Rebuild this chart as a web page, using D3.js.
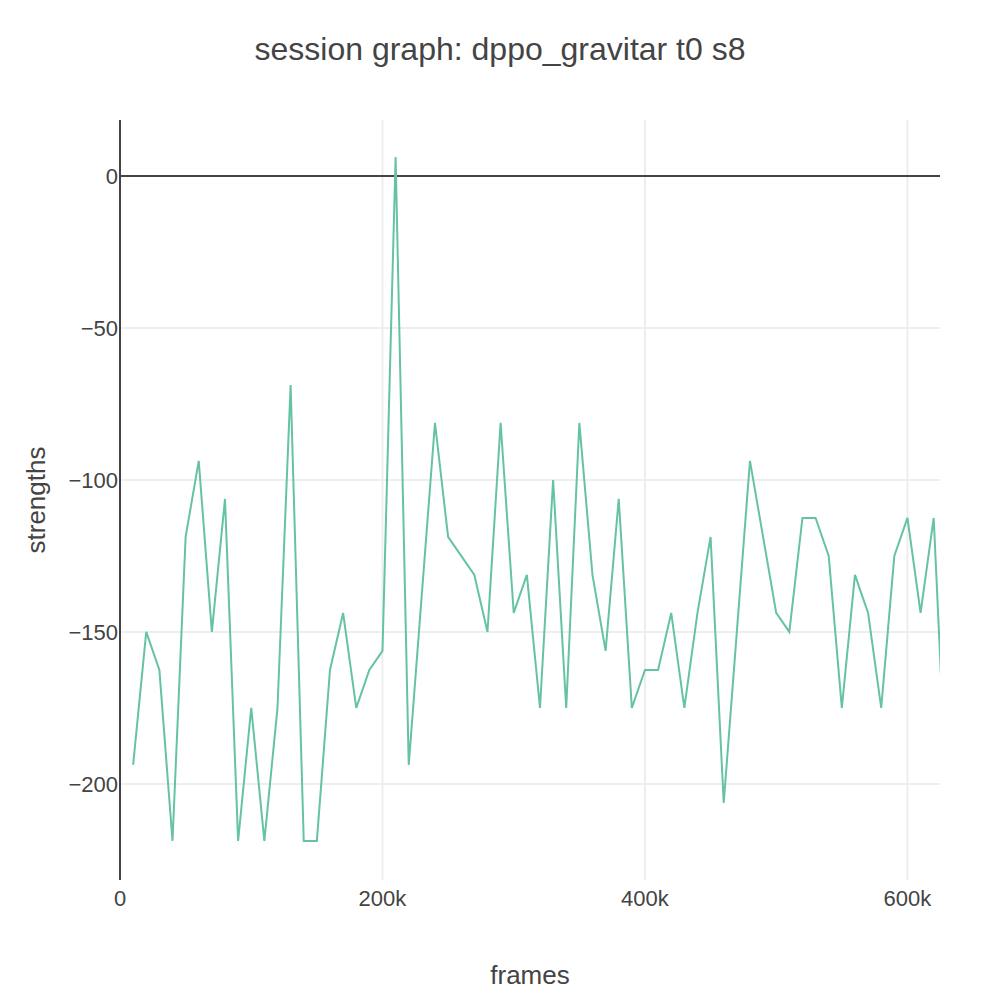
<!DOCTYPE html>
<html><head><meta charset="utf-8">
<script src="https://d3js.org/d3.v7.min.js"></script>
<style>body{margin:0;background:#fff}text{font-family:"Liberation Sans",Arial,sans-serif;fill:#444}</style>
</head><body><svg id="chart"></svg>
<script>
const frames = d3.range(10000, 640000, 10000);
const strengths = [-193.75,-150,-162.5,-218.75,-118.75,-93.75,-150,-106.25,-218.75,-175,
  -218.75,-175,-68.75,-218.75,-218.75,-162.5,-143.75,-175,-162.5,-156.25,
  6.25,-193.75,-137.5,-81.25,-118.75,-125,-131.25,-150,-81.25,-143.75,
  -131.25,-175,-100,-175,-81.25,-131.25,-156.25,-106.25,-175,-162.5,
  -162.5,-143.75,-175,-143.75,-118.75,-206.25,-150,-93.75,-118.75,-143.75,
  -150,-112.5,-112.5,-125,-175,-131.25,-143.75,-175,-125,-112.5,
  -143.75,-112.5,-206.25];
const xTicks = [0, 200000, 400000, 600000];
const yTicks = [0, -50, -100, -150, -200];

const W = 1000, H = 1000, m = {top:120, right:60, bottom:120, left:120};
const svg = d3.select('#chart').attr('width', W).attr('height', H);
const x = d3.scaleLinear().domain([0, 624800]).range([m.left, W - m.right]);
const y = d3.scaleLinear().domain([-231.6, 18.4]).range([H - m.bottom, m.top]);

svg.append('clipPath').attr('id','clip').append('rect')
  .attr('x', m.left).attr('y', m.top).attr('width', W-m.left-m.right).attr('height', H-m.top-m.bottom);

// grid
svg.selectAll('.gx').data(xTicks.slice(1)).enter().append('line')
  .attr('x1', d => x(d)).attr('x2', d => x(d)).attr('y1', m.top).attr('y2', H-m.bottom)
  .attr('stroke', '#eee').attr('stroke-width', 2);
svg.selectAll('.gy').data(yTicks.slice(1)).enter().append('line')
  .attr('x1', m.left).attr('x2', W-m.right).attr('y1', d => y(d)).attr('y2', d => y(d))
  .attr('stroke', '#eee').attr('stroke-width', 2);
// zero line
svg.append('line').attr('x1', m.left).attr('x2', W-m.right).attr('y1', y(0)).attr('y2', y(0))
  .attr('stroke', '#444').attr('stroke-width', 2);

// series
svg.append('path').datum(frames.map((f,i) => [f, strengths[i]]))
  .attr('clip-path','url(#clip)')
  .attr('fill','none').attr('stroke','#66c2a5').attr('stroke-width',2)
  .attr('d', d3.line().x(d => x(d[0])).y(d => y(d[1])));

// y axis line
svg.append('line').attr('x1', m.left).attr('x2', m.left).attr('y1', m.top).attr('y2', H-m.bottom)
  .attr('stroke', '#444').attr('stroke-width', 2);

// tick labels
const fmtX = d => d === 0 ? '0' : (d/1000) + 'k';
svg.selectAll('.tx').data(xTicks).enter().append('text')
  .attr('x', d => x(d)).attr('y', H - m.bottom + 26).attr('text-anchor','middle')
  .style('font-size','22px').text(fmtX);
svg.selectAll('.ty').data(yTicks).enter().append('text')
  .attr('x', m.left - 2).attr('y', d => y(d) + 8).attr('text-anchor','end')
  .style('font-size','22px').text(d => d < 0 ? '\u2212' + Math.abs(d) : d);

// titles
svg.append('text').attr('x', W/2).attr('y', 60).attr('text-anchor','middle')
  .style('font-size','32px').text('session graph: dppo_gravitar t0 s8');
svg.append('text').attr('x', 530).attr('y', 984).attr('text-anchor','middle')
  .style('font-size','26px').text('frames');
svg.append('text').attr('transform','translate(45,500) rotate(-90)').attr('text-anchor','middle')
  .style('font-size','26px').text('strengths');
</script></body></html>
